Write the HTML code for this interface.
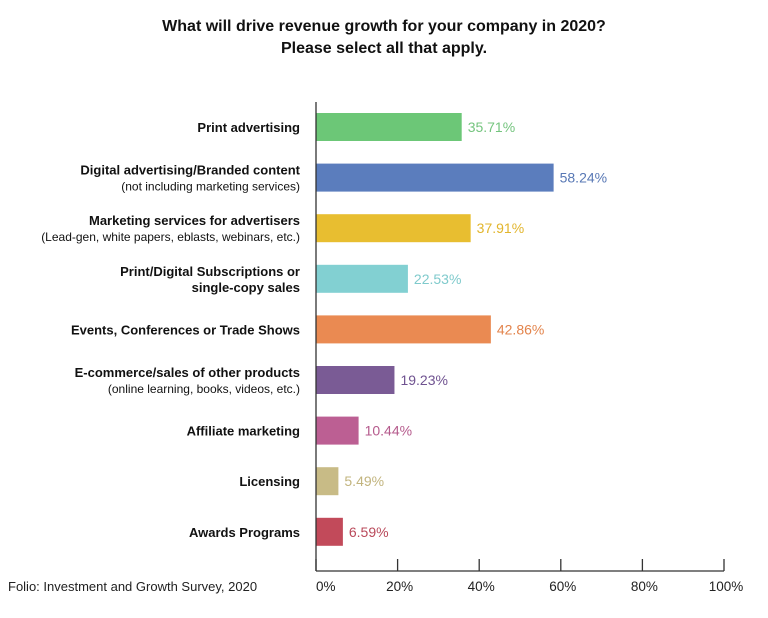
<!DOCTYPE html>
<html><head><meta charset="utf-8"><style>
body{margin:0;background:#fff;}
svg text{font-family:"Liberation Sans",sans-serif;}
</style></head><body>
<svg width="768" height="613" viewBox="0 0 768 613">
<text x="384" y="31" text-anchor="middle" font-size="16" font-weight="bold" fill="#111">What will drive revenue growth for your company in 2020?</text>
<text x="384" y="53" text-anchor="middle" font-size="16" font-weight="bold" fill="#111">Please select all that apply.</text>
<g id="bars"></g>
<g id="axis"></g>
<text x="8" y="591" font-size="13" fill="#222">Folio: Investment and Growth Survey, 2020</text>
</svg>
<script>
const categories=["Print advertising","Digital advertising/Branded content","Marketing services for advertisers","Print/Digital Subscriptions or","Events, Conferences or Trade Shows","E-commerce/sales of other products","Affiliate marketing","Licensing","Awards Programs"];
const subLabels=["","(not including marketing services)","(Lead-gen, white papers, eblasts, webinars, etc.)","single-copy sales","","(online learning, books, videos, etc.)","","",""];
const values=[35.71,58.24,37.91,22.53,42.86,19.23,10.44,5.49,6.59];
const tickValues=[0,20,40,60,80,100];
const colors=["#6cc777","#5b7dbd","#e8be30","#82d0d2","#ea8a52","#7a5b95","#bc5f93","#c8bb86","#c24a5a"];
const labelColors=["#74c47e","#5878b5","#e2b52c","#7fcacc","#e3844c","#6f5290","#b55a8c","#c2b47e","#b9495a"];
const ns="http://www.w3.org/2000/svg";
const x0=316,x1=724,yTop=102,rowH=50.6,barH=28,axisY=571;
const xs=v=>x0+(x1-x0)*v/100;
const yc=i=>127+i*rowH;
function mk(tag,attrs,parent){const e=document.createElementNS(ns,tag);for(const k in attrs)e.setAttribute(k,attrs[k]);parent.appendChild(e);return e;}
const gb=document.getElementById('bars');
values.forEach((v,i)=>{
 const r=mk('rect',{x:x0,y:yc(i)-barH/2,width:xs(v)-x0,height:barH,fill:colors[i]},gb);
 
 
 const t=mk('text',{x:xs(v)+6,y:yc(i)+5,'font-size':14,fill:labelColors[i]},gb);
 t.textContent=v.toFixed(2)+'%';
 
 
 const two=subLabels[i]!=="";
 const l=mk('text',{x:300,y:two?yc(i)-3:yc(i)+5,'text-anchor':'end','font-size':13,'font-weight':'bold',fill:'#111'},gb);
 l.textContent=categories[i];
 
 
 if(two){const s=mk('text',{x:300,y:yc(i)+13,'text-anchor':'end','font-size':(i===3?13:12),'font-weight':(i===3?'bold':'normal'),fill:'#111'},gb);
 s.textContent=subLabels[i];
 
 }
});
const ga=document.getElementById('axis');
const yl=mk('line',{x1:x0,y1:yTop,x2:x0,y2:axisY,stroke:'#333','stroke-width':1.3},ga);


const xl=mk('line',{x1:x0,y1:axisY,x2:x1,y2:axisY,stroke:'#333','stroke-width':1.3},ga);


tickValues.forEach((v,i)=>{
 const tk=mk('line',{x1:xs(v),y1:559,x2:xs(v),y2:axisY,stroke:'#333','stroke-width':1.3},ga);
 
 
 const t=mk('text',{x:i===0?xs(v):xs(v)+2,y:591,'text-anchor':i===0?'start':'middle','font-size':13.5,fill:'#222'},ga);
 t.textContent=v+'%';
 
 
});
</script>
</body></html>
